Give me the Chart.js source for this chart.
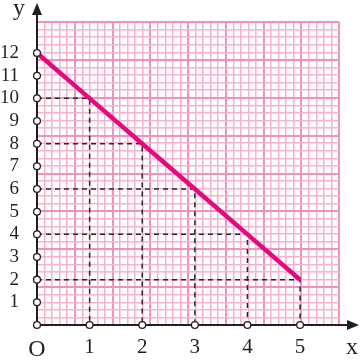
<!DOCTYPE html>
<html>
<head>
<meta charset="utf-8">
<script src="https://cdn.jsdelivr.net/npm/chart.js@4"></script>
<style>
  html, body { margin: 0; padding: 0; background: #fff; }
  #wrap { width: 360px; height: 362px; position: relative; }
</style>
</head>
<body>
<div id="wrap"><canvas id="lineChart"></canvas></div>
<script>
// values
const xTicks = [0, 1, 2, 3, 4, 5];
const yTicks = [1, 2, 3, 4, 5, 6, 7, 8, 9, 10, 11, 12];
const lineX = [0, 1, 2, 3, 4, 5];
const lineY = [12, 10, 8, 6, 4, 2];
const yDots = [0, 1, 2, 3, 4, 5, 6, 7, 8, 9, 10, 11, 12];
const xDots = [1, 2, 3, 4, 5];

const serif = '"Liberation Serif", "Times New Roman", serif';
const ink = '#231f20';

// dashed guides from each point to both axes (y: null breaks the line)
const guides = [];
for (let i = 1; i < lineX.length; i++) {
  guides.push({ x: 0, y: lineY[i] }, { x: lineX[i], y: lineY[i] }, { x: lineX[i], y: 0 }, { x: lineX[i], y: null });
}

const dots = yDots.map(v => ({ x: 0, y: v })).concat(xDots.map(v => ({ x: v, y: 0 })));

// axis lines with arrows, plus the x / y letters
const axesPlugin = {
  id: 'axes',
  beforeDatasetsDraw(chart) {
    const { ctx, scales } = chart;
    const x0 = scales.x.getPixelForValue(0);
    const y0 = scales.y.getPixelForValue(0);
    ctx.save();
    ctx.strokeStyle = ink;
    ctx.fillStyle = ink;
    ctx.lineWidth = 2;
    ctx.beginPath();
    ctx.moveTo(x0, y0);
    ctx.lineTo(x0, 12);
    ctx.moveTo(x0, y0);
    ctx.lineTo(350, y0);
    ctx.stroke();
    ctx.beginPath();
    ctx.moveTo(x0, 3);
    ctx.lineTo(x0 - 5, 15);
    ctx.lineTo(x0 + 5, 15);
    ctx.closePath();
    ctx.fill();
    ctx.beginPath();
    ctx.moveTo(359, y0);
    ctx.lineTo(347, y0 - 5);
    ctx.lineTo(347, y0 + 5);
    ctx.closePath();
    ctx.fill();
    ctx.font = '24px ' + serif;
    ctx.textAlign = 'center';
    ctx.textBaseline = 'alphabetic';
    ctx.fillText('y', 19, 15);
    ctx.fillText('x', 352, 354);
    ctx.restore();
  }
};

const minorCol = '#f6b2d1';
const majorCol = '#f092be';
const paperGrid = {
  color: c => (c.tick.value % 5 === 0 ? majorCol : minorCol),
  lineWidth: c => (c.tick.value % 5 === 0 ? 2 : 1.5),
  drawTicks: false
};
const cells = Array.from({ length: 41 }, (_, i) => ({ value: i }));

new Chart(document.getElementById('lineChart'), {
  type: 'line',
  data: {
    datasets: [
      {
        label: 'axis points',
        data: dots,
        showLine: false,
        pointRadius: 3.4,
        pointBackgroundColor: '#ffffff',
        pointBorderColor: ink,
        pointBorderWidth: 1.3,
        clip: false,
        order: 0
      },
      {
        label: 'line',
        data: lineX.map((x, i) => ({ x: x, y: lineY[i] })),
        borderColor: '#e5097f',
        borderWidth: 4.5,
        pointRadius: 0,
        tension: 0,
        fill: false,
        order: 1
      },
      {
        label: 'guides',
        data: guides,
        borderColor: '#2b2728',
        borderWidth: 1.5,
        borderDash: [5, 4],
        pointRadius: 0,
        spanGaps: false,
        fill: false,
        order: 2
      }
    ]
  },
  options: {
    responsive: true,
    maintainAspectRatio: false,
    animation: false,
    events: [],
    layout: { padding: { top: 22, right: 21, left: 0, bottom: 0 } },
    plugins: {
      legend: { display: false },
      tooltip: { enabled: false }
    },
    scales: {
      x: {
        type: 'linear',
        position: 'bottom',
        min: 0,
        max: 5.74,
        afterBuildTicks: s => { s.ticks = xTicks.map(v => ({ value: v })); },
        afterFit: s => { s.height = 37; },
        border: { display: false },
        grid: { display: false },
        ticks: {
          autoSkip: false,
          maxRotation: 0,
          padding: 2,
          color: ink,
          font: c => ({ family: serif, size: c.tick && c.tick.value === 0 ? 24 : 21 }),
          callback: v => (v === 0 ? 'O' : String(v))
        }
      },
      y: {
        type: 'linear',
        position: 'left',
        min: 0,
        max: 13.37,
        afterBuildTicks: s => { s.ticks = yTicks.map(v => ({ value: v })); },
        afterFit: s => { s.width = 37; },
        border: { display: false },
        grid: { display: false },
        ticks: {
          autoSkip: false,
          padding: 10,
          color: ink,
          font: { family: serif, size: 19 }
        }
      },
      gx: {
        axis: 'x',
        type: 'linear',
        position: 'bottom',
        min: 0,
        max: 40,
        afterBuildTicks: s => { s.ticks = cells.slice(); },
        afterFit: s => { s.height = 0; },
        border: { display: false },
        grid: paperGrid,
        ticks: { display: false }
      },
      gy: {
        axis: 'y',
        type: 'linear',
        position: 'left',
        min: 0,
        max: 40,
        afterBuildTicks: s => { s.ticks = cells.slice(); },
        afterFit: s => { s.width = 0; },
        border: { display: false },
        grid: paperGrid,
        ticks: { display: false }
      }
    }
  },
  plugins: [axesPlugin]
});
</script>
</body>
</html>
